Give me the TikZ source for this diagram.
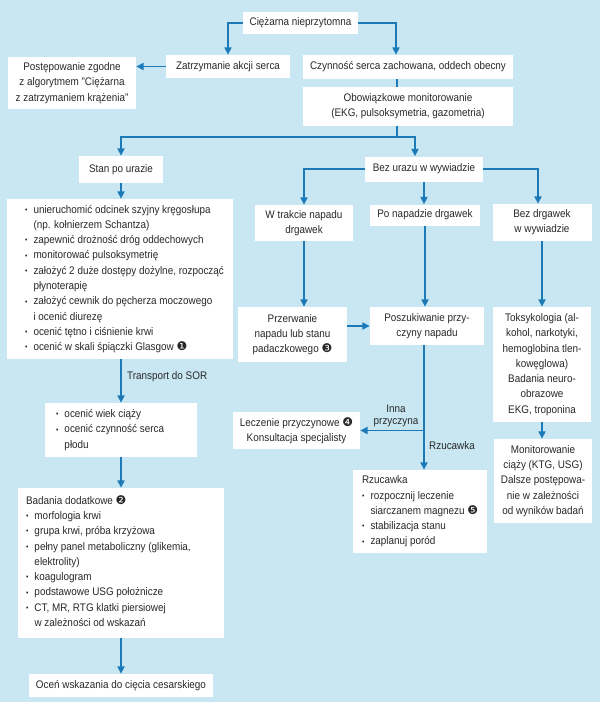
\documentclass[tikz,border=0pt]{standalone}
\usepackage{fontspec}
\setmainfont{Liberation Sans}[FakeStretch=0.9]
\newfontfamily\dvs{DejaVu Sans}
\usetikzlibrary{arrows.meta}
\definecolor{bgc}{RGB}{200,231,242}
\definecolor{arr}{RGB}{28,122,184}
\definecolor{txt}{RGB}{40,40,40}
\newcommand\bu{\makebox[8.5pt][l]{\raisebox{0.8pt}{\fontsize{7.5}{7.5}\selectfont •}}}
\newcommand\ind{\hspace*{8.5pt}}
\newcommand\cnum[1]{{\dvs\fontsize{12}{12}\selectfont #1}}
\begin{document}
\begin{tikzpicture}[x=1pt,y=-1pt,
  box/.style={fill=white, inner sep=0pt, text=txt, font=\fontsize{11}{15.3}\selectfont, align=center},
  tbox/.style={inner sep=0pt, text=txt, font=\fontsize{11}{15.3}\selectfont, align=left, anchor=west},
  lbl/.style={inner sep=0pt, text=txt, font=\fontsize{11}{11.5}\selectfont, align=center},
  ln/.style={draw=arr, line width=1.8pt},
  ar/.style={ln, -{Triangle[width=7pt,length=7.5pt]}},
]
\fill[bgc] (0,0) rectangle (600,702);
\useasboundingbox (0,0) rectangle (600,702);

% top part
\node[box, minimum width=115pt, minimum height=22pt] (top) at (300.5,23) {Ciężarna nieprzytomna};
\node[box, minimum width=124pt, minimum height=23pt] (zat) at (228,66.5) {Zatrzymanie akcji serca};
\node[box, minimum width=128pt, minimum height=52pt] (pos) at (72,83) {Postępowanie zgodne\\z algorytmem "Ciężarna\\z zatrzymaniem krążenia"};
\node[box, minimum width=210pt, minimum height=24pt] (czy) at (408,67) {Czynność serca zachowana, oddech obecny};
\node[box, minimum width=210pt, minimum height=39pt] (obo) at (408,106.5) {Obowiązkowe monitorowanie\\(EKG, pulsoksymetria, gazometria)};

% second level
\node[box, minimum width=84pt, minimum height=27pt] (stan) at (121,169.5) {Stan po urazie};
\node[box, minimum width=118pt, minimum height=25pt] (bez) at (424,169) {Bez urazu w wywiadzie};
\node[box, minimum width=98pt, minimum height=36pt] (wtr) at (304,223) {W trakcie napadu\\drgawek};
\node[box, minimum width=110pt, minimum height=21pt] (pon) at (425,215) {Po napadzie drgawek};
\node[box, minimum width=99pt, minimum height=37pt] (bdr) at (542,222.5) {Bez drgawek\\w wywiadzie};

% right part
\node[box, minimum width=109pt, minimum height=55pt] (prz) at (292.5,334.5) {Przerwanie\\napadu lub stanu\\padaczkowego \cnum{❸}};
\node[box, minimum width=114pt, minimum height=38pt] (posz) at (427,326) {Poszukiwanie przy-\\czyny napadu};
\node[box, minimum width=98pt, minimum height=115pt] (tok) at (542,364.5) {Toksykologia (al-\\kohol, narkotyki,\\hemoglobina tlen-\\kowęglowa)\\Badania neuro-\\obrazowe\\EKG, troponina};
\node[box, minimum width=127pt, minimum height=37pt] (lecz) at (296.5,430.5) {Leczenie przyczynowe \cnum{❹}\\Konsultacja specjalisty};
\node[box, minimum width=98pt, minimum height=84pt] (mon) at (543,481) {Monitorowanie\\ciąży (KTG, USG)\\Dalsze postępowa-\\nie w zależności\\od wyników badań};
\node[box, minimum width=134pt, minimum height=83pt] (rzu) at (420,511.5) {};
\node[tbox] (rzut) at ([xshift=9pt]rzu.west) {Rzucawka\\
\bu rozpocznij leczenie\\
\ind siarczanem magnezu \cnum{❺}\\
\bu stabilizacja stanu\\
\bu zaplanuj poród};

% left column
\node[box, minimum width=226pt, minimum height=160pt] (big) at (120,279) {};
\node[tbox] (bigt) at ([xshift=18pt]big.west) {\bu unieruchomić odcinek szyjny kręgosłupa\\
\ind(np. kołnierzem Schantza)\\
\bu zapewnić drożność dróg oddechowych\\
\bu monitorować pulsoksymetrię\\
\bu założyć 2 duże dostępy dożylne, rozpocząć\\
\ind płynoterapię\\
\bu założyć cewnik do pęcherza moczowego\\
\ind i ocenić diurezę\\
\bu ocenić tętno i ciśnienie krwi\\
\bu ocenić w skali śpiączki Glasgow \cnum{❶}};
\node[box, minimum width=152pt, minimum height=54pt] (wiek) at (121,430) {};
\node[tbox] (wiekt) at ([xshift=11pt]wiek.west) {\bu ocenić wiek ciąży\\
\bu ocenić czynność serca\\
\ind płodu};
\node[box, minimum width=206pt, minimum height=150pt] (bad) at (121,563) {};
\node[tbox] (badt) at ([xshift=8pt,yshift=2pt]bad.west) {Badania dodatkowe \cnum{❷}\\
\bu morfologia krwi\\
\bu grupa krwi, próba krzyżowa\\
\bu pełny panel metaboliczny (glikemia,\\
\ind elektrolity)\\
\bu koagulogram\\
\bu podstawowe USG położnicze\\
\bu CT, MR, RTG klatki piersiowej\\
\ind w zależności od wskazań};
\node[box, minimum width=184pt, minimum height=23pt] (oce) at (121,685.5) {Oceń wskazania do cięcia cesarskiego};

% labels
\node[lbl, anchor=west] (trl) at (127,377) {Transport do SOR};
\node[lbl] (inl) at (396,416) {Inna\\przyczyna};
\node[lbl] (rzl) at (452,446) {Rzucawka};

% connectors
\draw[ar] (top.west) -| (zat.north);
\draw[ar] (top.east) -| ([xshift=-12pt]czy.north);
\draw[ar] (zat.west) -- (zat.west -| pos.east);
\draw[ln] ([xshift=-11pt]czy.south) -- ([xshift=-11pt]obo.north);
\coordinate (split) at ([xshift=-11pt,yshift=-11pt]obo.south);
\draw[ln] ([xshift=-11pt]obo.south) -- (split);
\draw[ar] (split) -| (stan.north);
\draw[ar] (split) -| ([xshift=-9pt]bez.north);
\draw[ar] (bez.west) -| (wtr.north);
\draw[ar] (bez.east) -| ([xshift=-4pt]bdr.north);
\draw[ar] (bez.south) -- (bez.south |- pon.north);
\draw[ar] (wtr.south) -- (wtr.south |- prz.north);
\draw[ar] (pon.south) -- (pon.south |- posz.north);
\draw[ar] (bdr.south) -- (bdr.south |- tok.north);
\draw[ar] (prz.east |- posz.west) -- (posz.west);
\draw[ar] (tok.south) -- (tok.south |- mon.north);
\draw[ar] ([xshift=-3pt]posz.south) -- ([xshift=-3pt]posz.south |- rzu.north);
\coordinate (br) at ([xshift=-3pt]posz.south |- lecz.east);
\draw[ar] (br) -- (lecz.east);
\draw[ar] (stan.south) -- (stan.south |- big.north);
\draw[ar] (stan.south |- big.south) -- (stan.south |- wiek.north);
\draw[ar] (wiek.south) -- (bad.north);
\draw[ar] (bad.south) -- (oce.north);
\end{tikzpicture}
\end{document}
